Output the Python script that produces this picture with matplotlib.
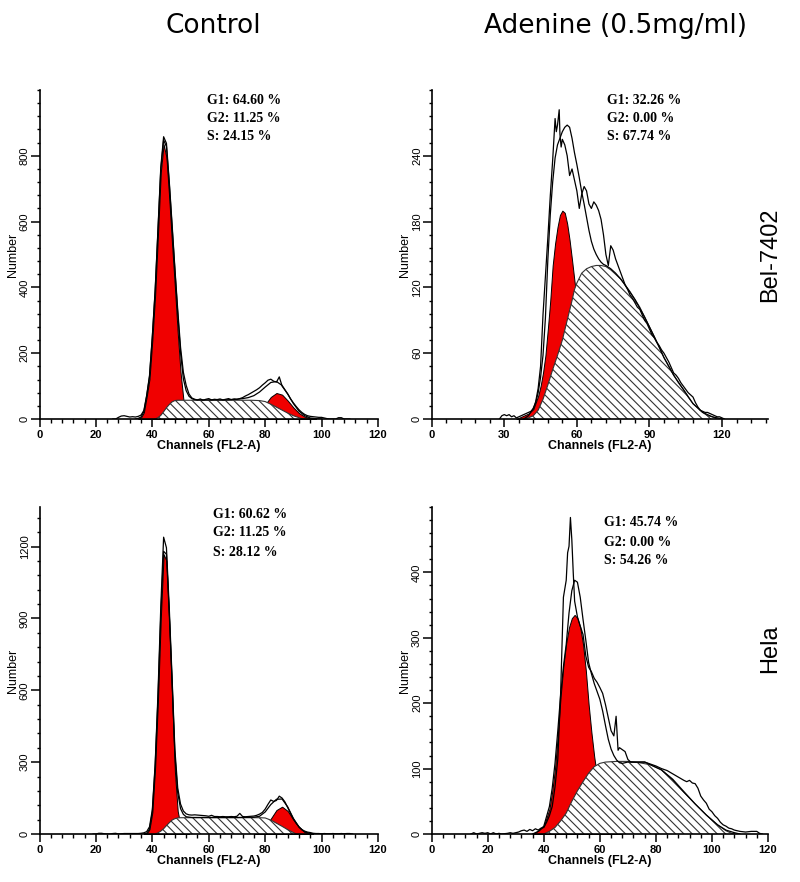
import matplotlib
matplotlib.use('Agg')
import matplotlib.pyplot as plt
from matplotlib.ticker import MultipleLocator

plt.rcParams['hatch.linewidth'] = 0.8
plt.rcParams['font.family'] = ['Liberation Sans', 'DejaVu Sans']

# ---------------- titles / labels ----------------
col_titles = ["Control", "Adenine (0.5mg/ml)"]
row_titles = ["Bel-7402", "Hela"]
x_label = "Channels (FL2-A)"
y_label = "Number"

stats_bel_ctrl = ["G1: 64.60 %", "G2: 11.25 %", "S: 24.15 %"]
stats_bel_ad = ["G1: 32.26 %", "G2: 0.00 %", "S: 67.74 %"]
stats_hela_ctrl = ["G1: 60.62 %", "G2: 11.25 %", "S: 28.12 %"]
stats_hela_ad = ["G1: 45.74 %", "G2: 0.00 %", "S: 54.26 %"]

# ---------------- ticks ----------------
xticks_ctrl = [0, 20, 40, 60, 80, 100, 120]
xticks_bel_ad = [0, 30, 60, 90, 120]
xticks_hela_ad = [0, 20, 40, 60, 80, 100, 120]
yticks_bel_ctrl = [0, 200, 400, 600, 800]
yticks_bel_ad = [0, 60, 120, 180, 240]
yticks_hela_ctrl = [0, 300, 600, 900, 1200]
yticks_hela_ad = [0, 100, 200, 300, 400]

# ---------------- Bel-7402 control ----------------
bc_hist_ch = [26, 27, 28, 29, 30, 31, 32, 33, 34, 35, 36, 37, 38, 39, 40, 41, 42, 43, 44, 45,
              46, 47, 48, 49, 50, 51, 52, 53, 54, 55, 56, 57, 58, 59, 60, 61, 62, 63, 64, 65,
              66, 67, 68, 69, 70, 71, 72, 73, 74, 75, 76, 77, 78, 79, 80, 81, 82, 83, 84, 85,
              86, 87, 88, 89, 90, 91, 92, 93, 94, 95, 96, 97, 98, 99, 100, 101, 102, 103, 104,
              105, 106, 107, 108, 110]
bc_hist = [0, 0, 5, 9, 10, 8, 6, 7, 6, 8, 12, 26, 72, 132, 252, 392, 578, 765, 858, 838,
           722, 592, 458, 332, 218, 142, 102, 76, 64, 60, 58, 61, 57, 60, 62, 58, 60, 59, 61, 58,
           60, 62, 59, 61, 60, 62, 65, 70, 74, 79, 84, 89, 95, 103, 110, 118, 121, 115, 112, 128,
           100, 88, 76, 61, 49, 38, 28, 20, 14, 10, 8, 7, 6, 5, 5, 3, 1, 0, 0,
           0, 4, 4, 0, 0]
bc_fit_ch = [34, 35, 36, 37, 38, 39, 40, 41, 42, 43, 44, 45, 46, 47, 48, 49, 50, 51, 52, 53,
             54, 55, 56, 58, 60, 62, 64, 66, 68, 70, 72, 74, 76, 78, 80, 82, 84, 86, 88, 90,
             92, 94, 96, 98, 100]
bc_fit = [0, 2, 6, 22, 70, 128, 248, 388, 572, 758, 848, 828, 716, 584, 452, 322, 202, 122, 86, 69,
          62, 59, 58, 58, 58, 58, 58, 58, 59, 60, 62, 65, 71, 82, 97, 111, 114, 102, 76, 47,
          24, 10, 3, 1, 0]
bc_g1_ch = [35, 36, 37, 38, 39, 40, 41, 42, 43, 44, 45, 46, 47, 48, 49, 50, 51, 52, 53, 54, 55]
bc_g1 = [0, 5, 20, 68, 122, 240, 378, 560, 750, 835, 795, 670, 530, 400, 262, 142, 60, 22, 8, 2, 0]
bc_s_ch = [41, 42, 43, 44, 45, 46, 47, 48, 49, 50, 55, 60, 65, 70, 75, 78, 80, 82, 84, 86,
           88, 90, 92, 93, 94]
bc_s = [0, 4, 11, 22, 34, 44, 52, 56, 57, 57, 57, 57, 57, 57, 57, 56, 53, 45, 36, 27,
        18, 10, 4, 1, 0]
bc_g2_ch = [74, 76, 78, 80, 82, 84, 86, 88, 90, 92, 94, 96, 98]
bc_g2 = [0, 6, 20, 44, 67, 79, 74, 56, 35, 18, 7, 2, 0]

# ---------------- Bel-7402 adenine ----------------
ba_hist_ch = [28, 29, 30, 31, 32, 33, 34, 35, 36, 37, 38, 39, 40, 41, 42, 43, 44, 45, 46, 47,
              48, 49, 50, 51, 51.5, 52, 52.7, 53, 53.5, 54, 55, 56, 57, 58, 59, 60, 61, 62, 63,
              64, 65, 66, 67, 68, 69, 70, 71, 72, 73, 74, 75, 76, 77, 78, 79, 80, 81, 82, 83,
              84, 85, 86, 87, 88, 89, 90, 91, 92, 93, 94, 95, 96, 97, 98, 99, 100, 101, 102,
              103, 104, 105, 106, 107, 108, 109, 110, 111, 112, 113, 114, 115, 116, 117, 118,
              119, 120, 121]
ba_hist = [0, 3, 4, 3, 4, 2, 3, 1, 2, 3, 4, 5, 6, 7, 9, 16, 28, 48, 95, 130,
           165, 203, 236, 274, 262, 268, 282, 260, 248, 255, 250, 240, 222, 228, 218, 208, 192, 205, 212,
           208, 196, 192, 198, 195, 190, 182, 168, 150, 140, 158, 154, 146, 140, 134, 128, 122, 118, 113, 110,
           106, 102, 100, 95, 90, 87, 82, 77, 74, 70, 67, 63, 60, 56, 52, 47, 42, 40, 37,
           33, 30, 27, 24, 22, 20, 15, 11, 8, 7, 6, 6, 5, 4, 3, 2,
           2, 1, 0]
ba_fit_ch = [38, 40, 42, 43, 44, 45, 46, 47, 48, 49, 50, 51, 52, 53, 54, 55, 56, 57, 58, 59,
             60, 61, 62, 63, 64, 65, 66, 67, 68, 69, 70, 71, 72, 74, 76, 78, 80, 84, 88, 92,
             96, 100, 104, 108, 112, 116, 120]
ba_fit = [0, 3, 10, 15, 24, 38, 58, 92, 145, 186, 216, 238, 250, 256, 262, 266, 268, 266, 256, 243,
          232, 220, 207, 196, 184, 172, 162, 155, 150, 146, 143, 141, 140, 137, 133, 128, 122, 109, 93, 75,
          56, 40, 27, 14, 6, 2, 0]
ba_g1_ch = [35, 36, 38, 40, 42, 43, 44, 45, 46, 47, 48, 49, 50, 51, 52, 53, 54, 55, 56, 57,
            58, 59, 60, 61, 62, 63, 64, 65, 66, 67, 68, 69, 70, 72]
ba_g1 = [0, 1, 3, 5, 9, 15, 21, 30, 42, 58, 82, 108, 140, 160, 175, 186, 190, 188, 178, 163,
         145, 126, 108, 90, 74, 58, 44, 32, 22, 15, 10, 6, 3, 0]
ba_s_ch = [38, 40, 42, 44, 46, 48, 50, 52, 54, 56, 58, 59, 60, 62, 64, 66, 68, 70, 72, 74,
           76, 78, 80, 82, 84, 86, 88, 90, 92, 94, 96, 98, 100, 102, 104, 106, 108, 110, 112, 114,
           116, 118]
ba_s = [0, 1, 3, 8, 18, 31, 45, 58, 72, 90, 108, 118, 124, 133, 137, 139, 140, 140, 139, 136,
        132, 128, 122, 116, 109, 102, 93, 84, 75, 66, 56, 48, 40, 33, 27, 20, 14, 10, 6, 3,
        2, 0]

# ---------------- Hela control ----------------
hc_hist_ch = [19, 20, 21, 22, 23, 24, 25, 26, 27, 28, 29, 30, 31, 32, 33, 34, 35, 36, 37, 38,
              39, 40, 41, 42, 43, 44, 45, 46, 47, 48, 49, 50, 51, 52, 53, 54, 55, 56, 57, 58,
              59, 60, 61, 62, 63, 64, 65, 66, 67, 68, 69, 70, 71, 72, 73, 74, 75, 76, 77, 78,
              79, 80, 81, 82, 83, 84, 85, 86, 87, 88, 89, 90, 91, 92, 93, 94, 95, 96, 97, 98,
              99, 100, 101, 102, 103, 104, 105, 106, 107, 108, 109, 110, 111]
hc_hist = [0, 0, 3, 3, 1, 0, 0, 2, 3, 0, 1, 2, 2, 2, 2, 2, 2, 3, 5, 10,
           30, 102, 292, 585, 950, 1239, 1195, 945, 652, 352, 192, 125, 96, 84, 80, 79, 80, 79, 78, 77,
           76, 74, 78, 73, 73, 72, 73, 72, 72, 73, 72, 74, 86, 73, 72, 73, 74, 75, 78, 83,
           90, 104, 124, 142, 136, 140, 158, 150, 134, 110, 86, 63, 45, 30, 18, 12, 8, 6, 3, 2,
           2, 1, 2, 1, 1, 2, 1, 1, 2, 1, 2, 2, 0]
hc_fit_ch = [37, 38, 39, 40, 41, 42, 43, 44, 45, 46, 47, 48, 49, 50, 51, 52, 54, 60, 70, 76,
             78, 80, 82, 84, 86, 88, 90, 92, 94, 96, 98]
hc_fit = [0, 3, 20, 92, 282, 566, 912, 1180, 1168, 920, 638, 330, 172, 106, 82, 72, 69, 69, 69, 70,
          74, 92, 123, 145, 146, 113, 65, 29, 9, 2, 0]
hc_g1_ch = [37, 38, 39, 40, 41, 42, 43, 44, 45, 46, 47, 48, 49, 50, 51, 52, 53]
hc_g1 = [0, 2, 20, 90, 280, 560, 900, 1168, 1140, 880, 580, 260, 95, 35, 10, 2, 0]
hc_s_ch = [41, 42, 43, 44, 45, 46, 47, 48, 49, 50, 55, 60, 65, 70, 75, 78, 80, 82, 84, 86,
           88, 90, 91]
hc_s = [0, 5, 12, 22, 35, 47, 58, 64, 67, 68, 68, 68, 68, 68, 68, 68, 67, 58, 45, 32,
        18, 6, 0]
hc_g2_ch = [76, 78, 80, 82, 84, 86, 88, 90, 92, 94, 96, 97]
hc_g2 = [0, 5, 24, 64, 100, 114, 96, 60, 28, 8, 1, 0]

# ---------------- Hela adenine ----------------
ha_hist_ch = [14, 15, 16, 18, 19, 20, 21, 22, 23, 24, 25, 27, 28, 29, 30, 31, 32, 33, 34, 35,
              36, 37, 38, 39, 40, 41, 42, 43, 44, 45, 46, 47, 48, 48.5, 49, 49.5, 50, 50.5, 51, 52,
              53, 54, 55, 56, 57, 58, 59, 60, 61, 62, 63, 64, 65, 65.8, 66.5, 67, 68, 69, 70, 71,
              72, 74, 76, 78, 80, 82, 84, 86, 88, 90, 91, 92, 93, 94, 95, 96, 97, 98, 99, 100,
              101, 102, 103, 104, 105, 106, 107, 108, 109, 110, 112, 114, 116, 117, 118]
ha_hist = [0, 2, 0, 2, 1, 2, 0, 2, 0, 1, 0, 1, 2, 1, 2, 3, 5, 6, 4, 7,
           5, 8, 6, 9, 10, 18, 28, 42, 72, 115, 215, 362, 388, 430, 440, 484, 450, 400, 356, 332,
           318, 305, 272, 255, 248, 238, 232, 224, 215, 198, 178, 158, 150, 180, 128, 132, 129, 126, 114, 110,
           110, 110, 110, 107, 104, 100, 97, 92, 87, 82, 80, 82, 78, 77, 70, 58, 52, 47, 38, 34,
           28, 24, 18, 14, 12, 9, 8, 6, 5, 4, 3, 4, 4, 1, 0]
ha_fit_ch = [36, 38, 40, 42, 43, 44, 45, 46, 47, 48, 49, 50, 51, 52, 53, 54, 55, 56, 57, 58,
             59, 60, 61, 62, 63, 64, 65, 66, 67, 68, 70, 72, 76, 78, 82, 86, 90, 94, 98, 102,
             105, 108, 110]
ha_fit = [0, 4, 12, 42, 70, 108, 158, 212, 256, 290, 338, 372, 388, 385, 362, 328, 296, 262, 245, 230,
          218, 206, 188, 166, 145, 130, 120, 113, 109, 108, 110, 110, 110, 106, 98, 83, 64, 46, 29, 14,
          6, 2, 0]
ha_g1_ch = [36, 38, 40, 42, 43, 44, 45, 46, 47, 48, 49, 50, 51, 52, 53, 54, 55, 56, 57, 58,
            59, 60, 61, 62, 64, 66, 68]
ha_g1 = [0, 5, 12, 38, 65, 100, 152, 210, 258, 292, 316, 330, 335, 330, 316, 290, 250, 198, 155, 118,
         88, 62, 42, 28, 12, 4, 0]
ha_s_ch = [40, 42, 44, 46, 48, 50, 52, 54, 56, 58, 60, 62, 66, 70, 74, 78, 82, 86, 90, 94,
           98, 102, 105, 107, 108]
ha_s = [0, 4, 10, 20, 32, 50, 66, 80, 93, 103, 108, 110, 111, 111, 109, 106, 98, 84, 65, 46,
        29, 14, 5, 1, 0]

RED = '#f00000'
W, H = 800.0, 882.0


def rect(l, r, t, b):
    return [l / W, 1 - b / H, (r - l) / W, (b - t) / H]


fig = plt.figure(figsize=(8.0, 8.82), dpi=100)


def draw(ax, hist_ch, hist, fit_ch, fit, g1_ch, g1, s_ch, s, g2_ch, g2,
         xlim, ylim, xticks, xminor, yticks, yminor):
    ax.fill_between(g1_ch, 0, g1, facecolor=RED, edgecolor='black', linewidth=0.7, zorder=1)
    if g2_ch is not None:
        ax.fill_between(g2_ch, 0, g2, facecolor=RED, edgecolor='black', linewidth=0.7, zorder=1)
    ax.fill_between(s_ch, 0, s, facecolor='white', edgecolor='#333333', hatch='\\\\\\\\',
                    linewidth=0.0, zorder=2)
    ax.plot(s_ch, s, color='#333333', lw=0.8, zorder=2.5)
    ax.plot(fit_ch, fit, color='black', lw=0.9, zorder=3)
    ax.plot(hist_ch, hist, color='black', lw=0.9, zorder=3)

    ax.set_xlim(*xlim)
    ax.set_ylim(*ylim)
    for sp in ['top', 'right']:
        ax.spines[sp].set_visible(False)
    for sp in ['left', 'bottom']:
        ax.spines[sp].set_linewidth(1.2)
    ax.set_xticks(xticks, [str(v) for v in xticks], fontweight='bold', fontsize=8)
    ax.xaxis.set_minor_locator(MultipleLocator(xminor))
    ax.set_yticks(yticks, [str(v) for v in yticks], rotation=90, va='center', fontsize=8)
    ax.yaxis.set_minor_locator(MultipleLocator(yminor))
    ax.tick_params(axis='x', which='major', length=6, width=1.1, pad=2)
    ax.tick_params(axis='x', which='minor', length=3, width=1.0)
    ax.tick_params(axis='y', which='major', length=6.5, width=1.1, pad=0.5)
    ax.tick_params(axis='y', which='minor', length=2.5, width=1.0)
    ax.set_xlabel(x_label, fontweight='bold', fontsize=9)
    ax.xaxis.set_label_coords(0.5, -0.064)
    ax.set_ylabel(y_label, fontsize=9)
    ax.yaxis.set_label_coords(-0.062, 0.5)
    ax.set_facecolor('white')


ax1 = fig.add_axes(rect(39.5, 378, 90, 419))
draw(ax1, bc_hist_ch, bc_hist, bc_fit_ch, bc_fit, bc_g1_ch, bc_g1, bc_s_ch, bc_s,
     bc_g2_ch, bc_g2, (0, 120), (0, 1000), xticks_ctrl, 4, yticks_bel_ctrl, 40)

ax2 = fig.add_axes(rect(431.7, 768, 90, 419))
draw(ax2, ba_hist_ch, ba_hist, ba_fit_ch, ba_fit, ba_g1_ch, ba_g1, ba_s_ch, ba_s,
     None, None, (0, 139), (0, 300), xticks_bel_ad, 6, yticks_bel_ad, 12)

ax3 = fig.add_axes(rect(39.5, 378, 507, 834))
draw(ax3, hc_hist_ch, hc_hist, hc_fit_ch, hc_fit, hc_g1_ch, hc_g1, hc_s_ch, hc_s,
     hc_g2_ch, hc_g2, (0, 120), (0, 1365), xticks_ctrl, 4, yticks_hela_ctrl, 60)

ax4 = fig.add_axes(rect(431.7, 768, 507, 834))
draw(ax4, ha_hist_ch, ha_hist, ha_fit_ch, ha_fit, ha_g1_ch, ha_g1, ha_s_ch, ha_s,
     None, None, (0, 120), (0, 500), xticks_hela_ad, 4, yticks_hela_ad, 20)


# stats text
def stats(lines, x, ys):
    for txt, y in zip(lines, ys):
        fig.text(x / W, 1 - y / H, txt, family=['Liberation Serif', 'DejaVu Serif'],
                 fontweight='bold', fontsize=10, va='center', ha='left')


stats(stats_bel_ctrl, 207, [100, 118, 137])
stats(stats_bel_ad, 607, [100, 118, 137])
stats(stats_hela_ctrl, 213, [515, 533, 553])
stats(stats_hela_ad, 604, [523, 542, 561])

# column titles
fig.text(213 / W, 1 - 33 / H, col_titles[0], family=['DejaVu Sans'], fontsize=19,
         ha='center', va='baseline')
fig.text(615 / W, 1 - 33 / H, col_titles[1], family=['DejaVu Sans'], fontsize=19,
         ha='center', va='baseline')
# row titles
fig.text(770 / W, 1 - 255 / H, row_titles[0], fontsize=17, rotation=90,
         ha='center', va='center')
fig.text(770 / W, 1 - 649 / H, row_titles[1], fontsize=17, rotation=90,
         ha='center', va='center')

fig.savefig('out.png', dpi=100, facecolor='white')
